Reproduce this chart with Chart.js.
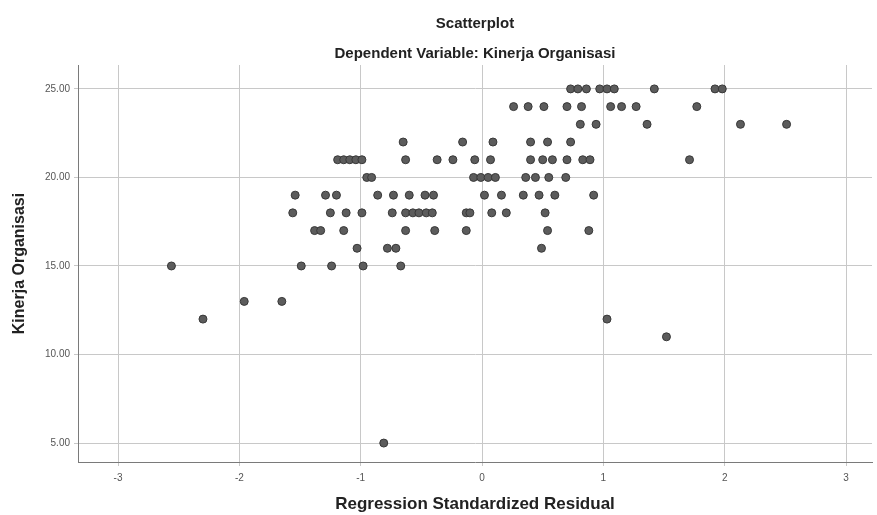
<!DOCTYPE html>
<html>
<head>
<meta charset="utf-8">
<script src="https://cdn.jsdelivr.net/npm/chart.js@4.4.0/dist/chart.umd.min.js"></script>
<style>
  html, body { margin: 0; padding: 0; background: #fff; }
</style>
</head>
<body>
<canvas id="chart" width="877" height="515"></canvas>
<script>
// Kinerja Organisasi score for each row of points
const kinerjaLevels = [25, 24, 23, 22, 21, 20, 19, 18, 17, 16, 15, 13, 12, 11, 5]

// regression standardized residuals found at each score (same order as above)
const residualsByLevel = [
  [0.73, 0.79, 0.86, 0.97, 1.03, 1.09, 1.42, 1.92, 1.98],
  [0.26, 0.38, 0.51, 0.70, 0.82, 1.06, 1.15, 1.27, 1.77],
  [0.81, 0.94, 1.36, 2.13, 2.51],
  [-0.65, -0.16, 0.09, 0.40, 0.54, 0.73],
  [-1.19, -1.14, -1.09, -1.04, -0.99, -0.63, -0.37, -0.24, -0.06, 0.07, 0.40, 0.50, 0.58, 0.70, 0.83, 0.89, 1.71],
  [-0.95, -0.91, -0.07, -0.01, 0.05, 0.11, 0.36, 0.44, 0.55, 0.69],
  [-1.54, -1.29, -1.20, -0.86, -0.73, -0.60, -0.47, -0.40, 0.02, 0.16, 0.34, 0.47, 0.60, 0.92],
  [-1.56, -1.25, -1.12, -0.99, -0.74, -0.63, -0.57, -0.52, -0.46, -0.41, -0.13, -0.10, 0.08, 0.20, 0.52],
  [-1.38, -1.33, -1.14, -0.63, -0.39, -0.13, 0.54, 0.88],
  [-1.03, -0.78, -0.71, 0.49],
  [-2.56, -1.49, -1.24, -0.98, -0.67],
  [-1.96, -1.65],
  [-2.30, 1.03],
  [1.52],
  [-0.81]
]

const xTicks = [-3, -2, -1, 0, 1, 2, 3]
const yTicks = [5, 10, 15, 20, 25]

const points = []
kinerjaLevels.forEach((level, i) => {
  residualsByLevel[i].forEach(r => points.push({x: r, y: level}))
})

const font = "'Liberation Sans', Arial, sans-serif"
const gridColor = '#c8c8c8'
const axisColor = '#7a7a7a'

const ctx = document.getElementById('chart').getContext('2d')

new Chart(ctx, {
  type: 'scatter',
  data: {
    datasets: [{
      data: points,
      backgroundColor: '#5c5c5c',
      borderColor: '#383838',
      borderWidth: 1,
      pointRadius: 4,
      pointHoverRadius: 4
    }]
  },
  options: {
    responsive: false,
    animation: false,
    layout: {padding: 0},
    plugins: {
      legend: {display: false},
      tooltip: {enabled: false},
      title: {
        display: true,
        text: 'Scatterplot',
        fullSize: false,
        color: '#222',
        font: {family: font, size: 15, weight: 'bold', lineHeight: 1.2},
        padding: {top: 15, bottom: 6}
      },
      subtitle: {
        display: true,
        text: 'Dependent Variable: Kinerja Organisasi',
        fullSize: false,
        color: '#222',
        font: {family: font, size: 15, weight: 'bold', lineHeight: 1.2},
        padding: {top: 6, bottom: 2}
      }
    },
    scales: {
      x: {
        type: 'linear',
        min: -3.33,
        max: 3.214,
        afterBuildTicks: (scale) => { scale.ticks = xTicks.map(v => ({value: v})) },
        afterFit: (scale) => { scale.height = 53 },
        ticks: {
          color: '#555',
          font: {family: font, size: 10},
          padding: 6,
          maxRotation: 0
        },
        grid: {color: gridColor, lineWidth: 1, tickLength: 4, tickColor: gridColor},
        border: {display: true, color: axisColor, width: 1},
        title: {
          display: true,
          text: 'Regression Standardized Residual',
          color: '#222',
          font: {family: font, size: 17, weight: 'bold', lineHeight: 1.2},
          padding: {top: 4, bottom: 0}
        }
      },
      y: {
        type: 'linear',
        min: 3.93,
        max: 26.35,
        afterBuildTicks: (scale) => { scale.ticks = yTicks.map(v => ({value: v})) },
        afterFit: (scale) => { scale.width = 78 },
        ticks: {
          color: '#555',
          font: {family: font, size: 10},
          padding: 4,
          callback: (v) => Number(v).toFixed(2)
        },
        grid: {color: gridColor, lineWidth: 1, tickLength: 4, tickColor: gridColor},
        border: {display: true, color: axisColor, width: 1},
        title: {
          display: true,
          text: 'Kinerja Organisasi',
          color: '#222',
          font: {family: font, size: 16, weight: 'bold', lineHeight: 1.2},
          padding: {top: 10, bottom: 4}
        }
      }
    }
  }
})
</script>
</body>
</html>
